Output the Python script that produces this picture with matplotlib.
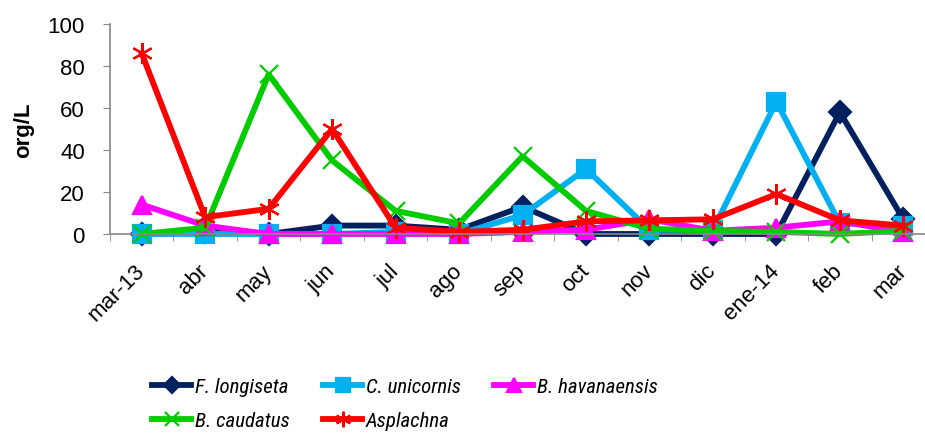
import numpy as np
import matplotlib
matplotlib.use("Agg")
import matplotlib.pyplot as plt
from matplotlib import font_manager as fm

months = ["mar-13", "abr", "may", "jun", "jul", "ago", "sep", "oct",
          "nov", "dic", "ene-14", "feb", "mar"]

f_longiseta = [0, 1, 0, 4, 4, 2, 13, 0, 0, 0, 0, 58, 7]
c_unicornis = [0, 0, 0, 0, 1, 0, 9, 31, 2, 2, 63, 5, 4]
b_havanaensis = [14, 4, 0, 0, 0, 0, 1, 2, 7, 1.5, 3, 6, 1]
b_caudatus = [0, 3, 76, 35, 11, 5, 37, 11, 2.5, 1.5, 1, 0, 1.5]
asplachna = [86, 8, 12, 50, 3, 1, 2, 6, 6.5, 7, 19, 6.5, 4]


def first_font(names):
    for n in names:
        try:
            fm.findfont(fm.FontProperties(family=n), fallback_to_default=False)
            return n
        except ValueError:
            pass
    return None


narrow = first_font(["Liberation Sans Narrow", "Roboto Condensed",
                     "Open Sans Condensed", "DejaVu Sans Condensed"])
plt.rcParams["font.family"] = ["Liberation Sans", "DejaVu Sans"]

fig = plt.figure(figsize=(9.25, 4.35), dpi=100)
ax = fig.add_axes([0.1189, 0.4598, 0.892, 0.4828])

x = np.arange(len(months))
series = [
    ("F. longiseta", f_longiseta, "#002060", "D", 11),
    ("C. unicornis", c_unicornis, "#00B0F0", "s", 13),
    ("B. havanaensis", b_havanaensis, "#FF00FF", "^", 13),
    ("B. caudatus", b_caudatus, "#00CC00", "x", 13),
    ("Asplachna", asplachna, "#FF0000", (6, 2, 0), 15),
]
lines = {}
for name, vals, col, mk, ms in series:
    ln, = ax.plot(x, vals, color=col, lw=4.2, marker=mk, markersize=ms,
                  markeredgecolor=col, markerfacecolor=col, markeredgewidth=1.6,
                  label=name, clip_on=False)
    lines[name] = ln

ax.set_xlim(-0.5, len(months) - 0.5)
ax.set_ylim(0, 100)
ax.set_yticks(range(0, 101, 20))
ax.tick_params(axis="y", labelsize=16, length=5, color="#888888", pad=13)

# category labels on major ticks, tick marks on the boundaries
ax.set_xticks(x)
ax.set_xticklabels(months, rotation=45, ha="right", va="center",
                   rotation_mode="anchor", fontsize=16)
ax.tick_params(axis="x", which="major", length=0, pad=24)
ax.set_xticks(np.arange(-0.5, len(months), 1), minor=True)
ax.tick_params(axis="x", which="minor", length=5, color="#888888")

for s in ["top", "right"]:
    ax.spines[s].set_visible(False)
for s in ["left", "bottom"]:
    ax.spines[s].set_color("#888888")
    ax.spines[s].set_linewidth(1.2)

ax.set_ylabel("org/L", fontsize=16, fontweight="bold", labelpad=10)

if narrow:
    leg_font = {"family": narrow, "style": "italic", "size": 15}
else:
    leg_font = {"style": "italic", "size": 14}

order = ["F. longiseta", "B. caudatus", "C. unicornis", "Asplachna", "B. havanaensis"]
fig.legend([lines[n] for n in order], order, ncol=3, loc="center",
           bbox_to_anchor=(0.438, 0.07), frameon=False, prop=leg_font,
           handlelength=1.85, markerscale=0.75, columnspacing=1.6,
           labelspacing=0.7, handletextpad=0.2, borderpad=0)

fig.savefig("out.png", dpi=100)
